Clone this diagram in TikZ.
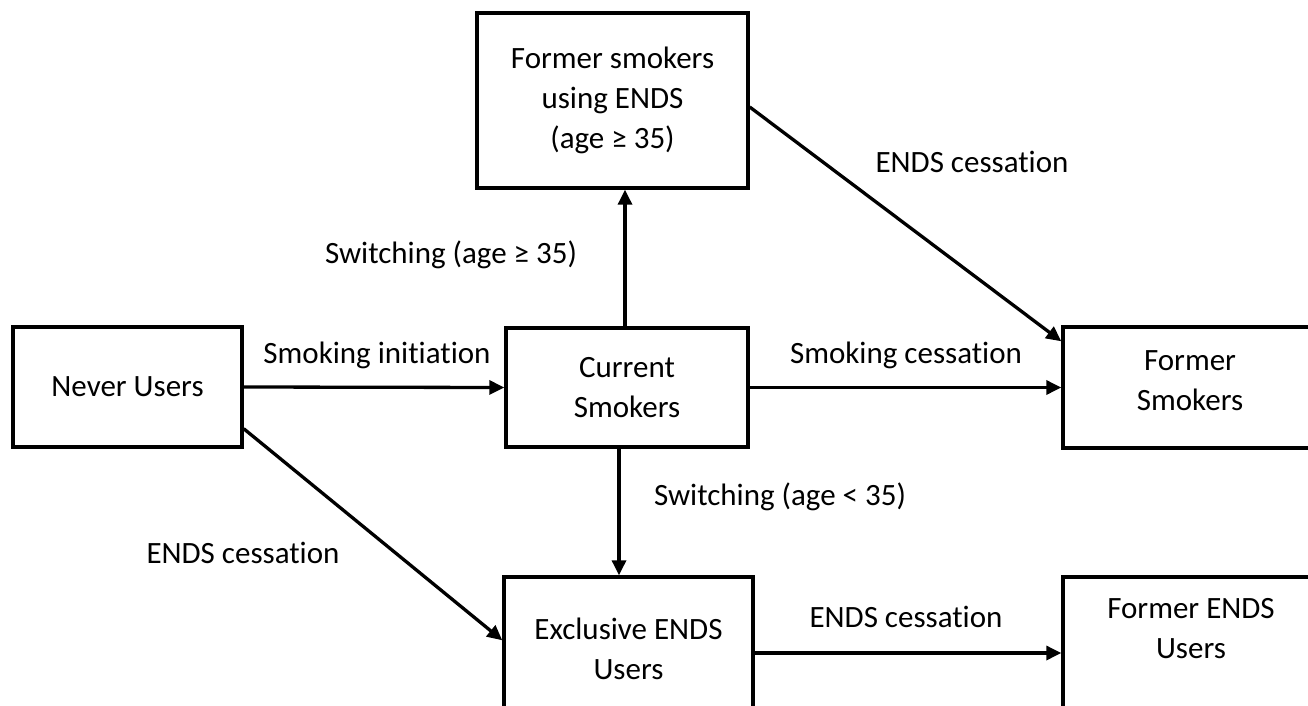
\documentclass[tikz,border=0pt]{standalone}
\usepackage{fontspec}
\setmainfont{Carlito}[Ligatures=NoCommon]
\usetikzlibrary{arrows.meta,calc}
\begin{document}
\begin{tikzpicture}[x=1pt,y=-1pt,
  box/.style={draw=black,line width=3.4pt,rectangle,inner sep=0pt,align=center,
    font=\fontsize{31}{40}\selectfont},
  lbl/.style={inner sep=0pt,font=\fontsize{31}{40}\selectfont,align=center},
  arr/.style={line width=3.3pt,-{Triangle[length=15pt,width=14pt]}}]
\useasboundingbox (0,0) rectangle (1308,706);
\clip (0,0) rectangle (1308,706);
\fill[white] (0,0) rectangle (1308,706);
% boxes
\node[box,minimum width=229pt,minimum height=120pt] (never) at (127.5,387) {Never Users};
\node[box,minimum width=242pt,minimum height=119pt] (current) at (627,387.5) {Current\\Smokers};
\node[box,minimum width=271pt,minimum height=175pt] (fse) at (612.5,100.5) {Former smokers\\using ENDS\\(age ≥ 35)};
\node[box,minimum width=254pt,minimum height=121pt] (fs) at (1190,387.5) {};
\node[lbl] (fstxt) at (1190,381) {Former\\Smokers};
\node[box,minimum width=249pt,minimum height=144pt] (excl) at (628.5,649) {Exclusive ENDS\\Users};
\node[box,minimum width=254pt,minimum height=163pt] (fends) at (1190,658.5) {};
\node[lbl] (fendstxt) at (1191,629) {Former ENDS\\Users};
% labels
\node[lbl] (l1) at (377,355) {Smoking initiation};
\node[lbl] (l2) at (906,355) {Smoking cessation};
\node[lbl] (l3) at (451,255) {Switching (age ≥ 35)};
\node[lbl] (l4) at (972,162) {ENDS cessation};
\node[lbl] (l5) at (780,497) {Switching (age < 35)};
\node[lbl] (l6) at (243,553) {ENDS cessation};
\node[lbl] (l7) at (906,617) {ENDS cessation};
% connectors
\draw[arr] (never.east) -- (current.west);
\draw[arr] (current.east) -- (fs.west);
\coordinate (cu) at ([xshift=-2pt]current.north);
\draw[arr] (cu) -- (cu |- fse.south);
\coordinate (cd) at ([xshift=-8pt]current.south);
\draw[arr] (cd) -- (cd |- excl.north);
\draw[arr] ([yshift=-6.5pt]fse.east) -- ([yshift=-16pt]fs.north west);
\draw[arr] ([yshift=20pt]never.south east) -- ([yshift=-65pt]excl.north west);
\coordinate (e1) at ([yshift=-4pt]excl.east);
\draw[arr] (e1) -- (e1 -| fends.west);
\end{tikzpicture}
\end{document}
